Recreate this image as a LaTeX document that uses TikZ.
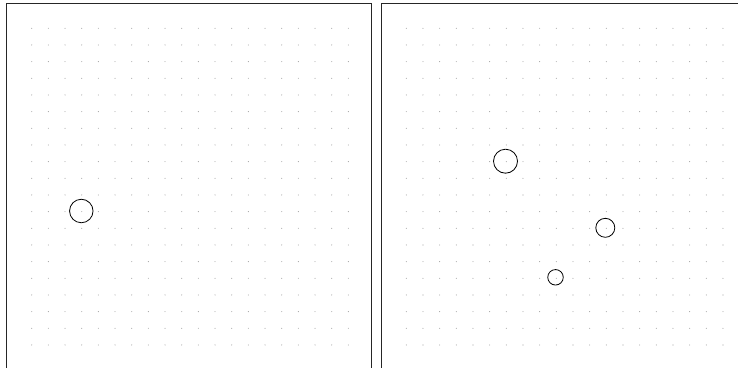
\documentclass[tikz,border=0pt]{standalone}
\begin{document}
\begin{tikzpicture}[x=1pt,y=-1pt,
  frameline/.style={draw=black!85,line width=0.9pt},
  griddot/.style={fill=black!35},
  ring/.style={circle,draw=black,line width=0.8pt,inner sep=0pt,fill=none}]
\useasboundingbox (0,0) rectangle (738,367);
\clip (0,0) rectangle (738,367);
\fill[white] (0,0) rectangle (738,367);
% panel frames
\draw[frameline] (6.7,370) -- (6.7,3.5) -- (371,3.5) -- (371,370);
\draw[frameline] (381,370) -- (381,3.5) -- (745,3.5) -- (745,370);
% dot grids
\foreach \i in {0,...,19}{
  \foreach \j in {0,...,19}{
    \fill[griddot] (31.7+16.667*\i,28.3+16.667*\j) circle (0.55pt);
    \fill[griddot] (406.3+16.667*\i,28.3+16.667*\j) circle (0.55pt);
  }
}
% circles
\node[ring,minimum size=23.5pt] (a) at (81.3,211) {};
\node[ring,minimum size=24pt] (b) at (505.5,161.2) {};
\node[ring,minimum size=19pt] (c) at (605.3,227.8) {};
\node[ring,minimum size=15.5pt] (d) at (555.5,277.3) {};
\end{tikzpicture}
\end{document}
